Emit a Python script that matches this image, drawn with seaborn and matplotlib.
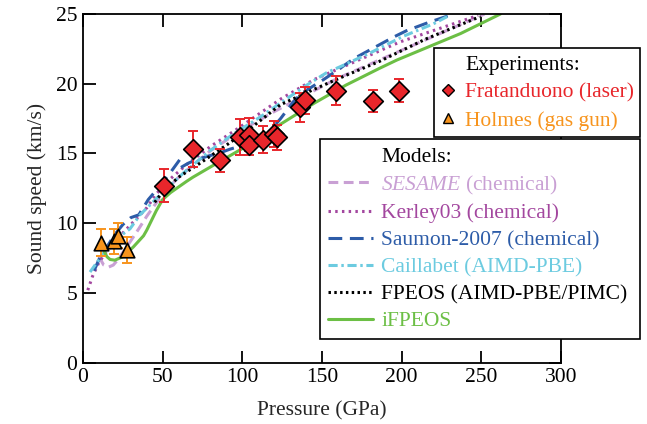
import numpy as np
import pandas as pd
import matplotlib
matplotlib.use("Agg")
import matplotlib.pyplot as plt
from matplotlib.lines import Line2D
import seaborn as sns

# ---------------- data ----------------
frat_p = [50.9, 69.0, 85.7, 98.3, 104.4, 104.4, 113.0, 120.0, 121.8, 136.5, 139.6, 158.7, 181.8, 198.3]
frat_v = [12.7, 15.3, 14.5, 16.2, 16.35, 15.6, 16.0, 16.4, 16.15, 18.3, 18.8, 19.5, 18.75, 19.5]
frat_e = [1.2, 1.3, 0.8, 1.3, 1.2, 0.7, 0.95, 0.9, 0.9, 1.05, 1.0, 1.05, 0.77, 0.83]

holm_p = [11.3, 19.7, 22.2, 27.5]
holm_v = [8.6, 8.7, 9.1, 8.1]
holm_e = [0.95, 0.9, 0.9, 0.93]

sesame_p = [10, 13, 16, 19, 22, 28, 35, 40, 50, 60, 80, 100, 120, 140, 160, 200, 252]
sesame_v = [7.6, 7.0, 6.85, 7.0, 7.4, 8.4, 9.6, 10.5, 12.1, 13.3, 15.2, 16.7, 18.0, 19.2, 20.4, 22.4, 25.0]

kerley_p = [3, 6, 10, 15, 20, 25, 30, 40, 46, 55, 65, 80, 96, 110, 124, 145, 165, 199, 248]
kerley_v = [5.2, 6.2, 7.2, 8.0, 8.7, 9.3, 9.9, 11.1, 12.1, 13.2, 14.2, 15.5, 16.7, 17.8, 18.9, 20.3, 21.3, 23.0, 24.9]

# Saumon-2007 has discontinuities: separate segments
saumon_seg_p = [[7, 10, 15, 20, 25, 30, 35, 41, 47, 54, 61],
                [61.5, 66, 70, 78, 85, 92, 98, 105, 111, 118, 124, 132, 137, 151, 160, 170, 195, 203, 217, 230]]
saumon_seg_v = [[6.6, 7.4, 8.3, 9.2, 9.9, 10.4, 10.6, 11.7, 12.5, 13.5, 14.6],
                [14.0, 14.3, 14.5, 14.8, 15.0, 15.3, 15.5, 15.6, 15.9, 16.7, 17.5, 18.7, 19.3, 20.3, 21.0, 21.8, 23.35, 23.8, 24.4, 24.9]]

caill_p = [4.4, 10.7, 13.8, 20, 29.5, 35.8, 46.3, 63, 79.7, 94.4, 111, 123.7, 140.4, 153, 161, 180, 201, 220, 230]
caill_v = [6.5, 7.5, 8.0, 8.8, 9.6, 10.6, 11.8, 13.6, 15.2, 16.4, 17.6, 18.6, 19.9, 20.8, 21.2, 22.2, 23.4, 24.3, 24.9]

fpeos_p = [45, 50.4, 60, 73.4, 90, 105, 124, 145, 165, 186, 215, 249]
fpeos_v = [11.5, 12.3, 13.3, 14.3, 15.6, 16.8, 18.5, 19.6, 20.6, 21.6, 23.2, 24.8]

ifpeos_p = [12.8, 15, 17, 20, 25, 31.6, 38, 40, 46, 50, 55, 65, 69, 84, 100, 111, 124, 145, 165, 186, 197, 237, 262]
ifpeos_v = [8.1, 7.6, 7.4, 7.35, 7.6, 8.3, 9.1, 9.5, 10.9, 11.7, 12.2, 13.0, 13.3, 14.3, 15.35, 15.95, 17.1, 18.6, 19.9, 21.1, 21.7, 23.6, 25.0]

x_ticks = [0, 50, 100, 150, 200, 250, 300]
y_ticks = [0, 5, 10, 15, 20, 25]

# ---------------- style ----------------
sns.set_style("ticks")
plt.rcParams['font.family'] = ['Liberation Serif', 'DejaVu Serif']
plt.rcParams['mathtext.fontset'] = 'custom'
plt.rcParams['mathtext.rm'] = 'Liberation Serif'
plt.rcParams['mathtext.it'] = 'Liberation Serif:italic'
FS = 15.5

C_RED = '#e8262b'
C_ORANGE = '#f7941d'
C_SESAME = '#c9a0d4'
C_KERLEY = '#a3479f'
C_SAUMON = '#2d5ca8'
C_CAILL = '#6ccbe0'
C_FPEOS = '#000000'
C_IFPEOS = '#6cbf45'

fig = plt.figure(figsize=(6.47, 4.24), dpi=100)
ax = fig.add_axes([83/647, 1-362.7/424, (561-83)/647, (362.7-14)/424])

LW = 2.2
sns.lineplot(x=sesame_p, y=sesame_v, ax=ax, color=C_SESAME, lw=LW, linestyle=(0, (3.2, 1.8)), estimator=None, sort=False, label='$\\mathit{SESAME}$ (chemical)', legend=False)
sns.lineplot(x=kerley_p, y=kerley_v, ax=ax, color=C_KERLEY, lw=LW, linestyle=(0, (0.8, 1.4)), estimator=None, sort=False, label='Kerley03 (chemical)', legend=False)
for i, (sp, sv) in enumerate(zip(saumon_seg_p, saumon_seg_v)):
    sns.lineplot(x=sp, y=sv, ax=ax, color=C_SAUMON, lw=LW, linestyle=(0, (4.5, 2.5)), estimator=None, sort=False,
                 label='Saumon-2007 (chemical)' if i == 0 else '_nolegend_', legend=False)
sns.lineplot(x=caill_p, y=caill_v, ax=ax, color=C_CAILL, lw=LW, linestyle=(0, (3.0, 1.2, 0.8, 1.2)), estimator=None, sort=False, label='Caillabet (AIMD-PBE)', legend=False)
sns.lineplot(x=fpeos_p, y=fpeos_v, ax=ax, color=C_FPEOS, lw=LW, linestyle=(0, (0.8, 1.1)), estimator=None, sort=False, label='FPEOS (AIMD-PBE/PIMC)', legend=False)
sns.lineplot(x=ifpeos_p, y=ifpeos_v, ax=ax, color=C_IFPEOS, lw=LW, linestyle='-', estimator=None, sort=False, label='iFPEOS', legend=False)

# experiments
ax.errorbar(holm_p, holm_v, yerr=holm_e, fmt='none', ecolor=C_ORANGE, elinewidth=1.4, capsize=3.5, capthick=1.4, zorder=5)
ax.errorbar(frat_p, frat_v, yerr=frat_e, fmt='none', ecolor=C_RED, elinewidth=1.4, capsize=3.5, capthick=1.4, zorder=5)
sns.scatterplot(x=holm_p, y=holm_v, ax=ax, marker='^', s=110, color=C_ORANGE, edgecolor='black', linewidth=1.2, zorder=6, legend=False)
sns.scatterplot(x=frat_p, y=frat_v, ax=ax, marker='D', s=100, color=C_RED, edgecolor='black', linewidth=1.2, zorder=6, legend=False)

ax.set_xlim(0, 300)
ax.set_ylim(0, 25)
ax.set_xticks(x_ticks)
ax.set_yticks(y_ticks)
ax.tick_params(direction='in', length=9, width=1.3, top=True, right=True, labelsize=FS, pad=4, colors='black')
for s in ax.spines.values():
    s.set_linewidth(1.3)
    s.set_color('black')
    s.set_visible(True)
ax.set_xlabel('Pressure (GPa)', fontsize=FS, labelpad=10)
ax.set_ylabel('Sound speed (km/s)', fontsize=FS, labelpad=6)

# ---------------- legends ----------------
blank = Line2D([], [], linestyle='none', marker=None)
h_frat = Line2D([], [], linestyle='none', marker='D', markersize=6, markerfacecolor=C_RED, markeredgecolor='black', markeredgewidth=1.0)
h_holm = Line2D([], [], linestyle='none', marker='^', markersize=7, markerfacecolor=C_ORANGE, markeredgecolor='black', markeredgewidth=1.0)
leg1 = ax.legend([blank, h_frat, h_holm], ['Experiments:', 'Fratanduono (laser)', 'Holmes (gas gun)'],
                 loc='upper left', bbox_to_anchor=(434/647, 1-139/424, (640-434)/647, (139-48)/424),
                 bbox_transform=fig.transFigure, mode='expand', borderaxespad=0, fontsize=FS,
                 handlelength=0.7, handletextpad=0.45, labelspacing=0.37, borderpad=0.3,
                 frameon=True, fancybox=False, framealpha=1, edgecolor='black')
leg1.get_frame().set_linewidth(1.2)
for t, c in zip(leg1.get_texts(), ['black', C_RED, C_ORANGE]):
    t.set_color(c)
ax.add_artist(leg1)

handles, labels = ax.get_legend_handles_labels()
hd = dict(zip(labels, handles))
order = ['$\\mathit{SESAME}$ (chemical)', 'Kerley03 (chemical)', 'Saumon-2007 (chemical)',
         'Caillabet (AIMD-PBE)', 'FPEOS (AIMD-PBE/PIMC)', 'iFPEOS']
leg2 = ax.legend([blank] + [hd[k] for k in order], ['Models:'] + order,
                 loc='upper left', bbox_to_anchor=(320/647, 1-345/424, (640-320)/647, (345-139)/424),
                 bbox_transform=fig.transFigure, mode='expand', borderaxespad=0, fontsize=FS,
                 handlelength=2.1, handletextpad=0.4, labelspacing=0.32, borderpad=0.35,
                 frameon=True, fancybox=False, framealpha=1, edgecolor='black')
leg2.get_frame().set_linewidth(1.2)
for t, c in zip(leg2.get_texts(), ['black', C_SESAME, C_KERLEY, C_SAUMON, C_CAILL, 'black', C_IFPEOS]):
    t.set_color(c)

fig.savefig('out.png', dpi=100)
